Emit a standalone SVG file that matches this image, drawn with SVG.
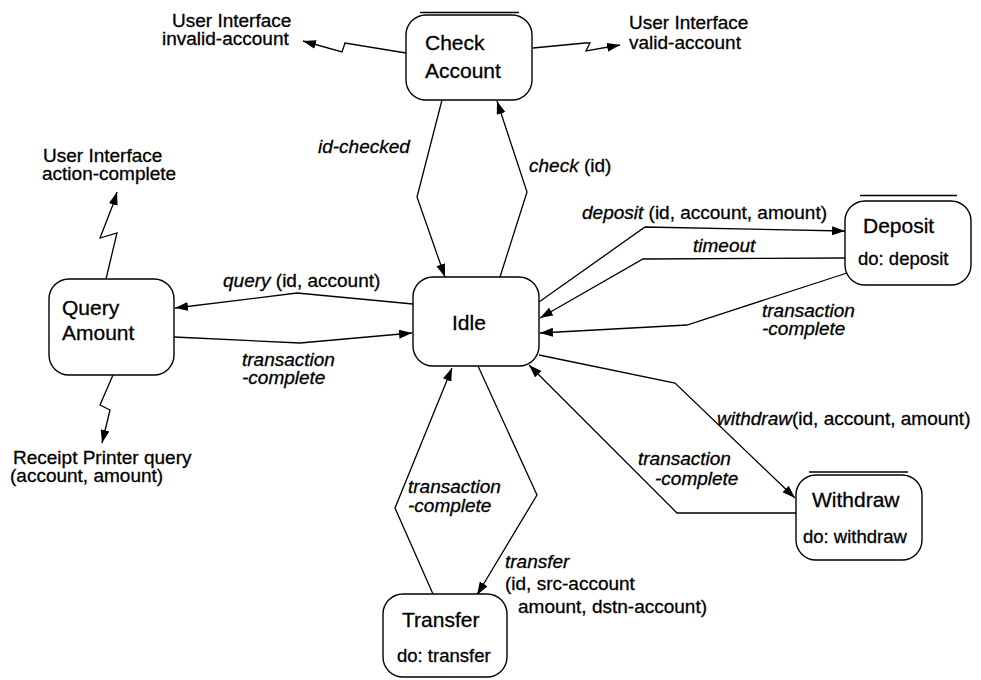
<svg xmlns="http://www.w3.org/2000/svg" width="981" height="680" viewBox="0 0 981 680">
<style>
  .box { fill: #fff; stroke: #000; stroke-width: 1.4; }
  .top { stroke: #000; stroke-width: 1.6; }
  .name { font-family: "Liberation Sans", Arial, sans-serif; font-size: 21px; fill: #000; stroke: #000; stroke-width: 0.3; }
  .act { font-family: "Liberation Sans", Arial, sans-serif; font-size: 18.5px; fill: #000; stroke: #000; stroke-width: 0.3; }
  .lbl { font-family: "Liberation Sans", Arial, sans-serif; font-size: 19px; fill: #000; stroke: #000; stroke-width: 0.3; }
  .it { font-style: italic; }
  .edge { fill: none; stroke: #000; stroke-width: 1.3; marker-end: url(#arr); }
</style>
<defs>
  <marker id="arr" markerUnits="userSpaceOnUse" markerWidth="14" markerHeight="10" refX="13" refY="4.5" orient="auto">
    <path d="M0,0 L13,4.5 L0,9 z" fill="#000"/>
  </marker>
</defs>
<rect width="981" height="680" fill="#fff"/>

<g id="connectors">
  <path class="edge" d="M442,100 L417,197 L445,277"/>
  <path class="edge" d="M500,277 L527,192 L497,101"/>
  <path class="edge" d="M539,302 L645,227 L845,231"/>
  <path class="edge" d="M845,258 L643,259 L540,318"/>
  <path class="edge" d="M847,273 L687,325 L540,333"/>
  <path class="edge" d="M413,304 L297,293 L175,308"/>
  <path class="edge" d="M174,337 L300,343 L412,333"/>
  <path class="edge" d="M539,355 L675,383 L795,498"/>
  <path class="edge" d="M796,513 L677,513 L529,365"/>
  <path class="edge" d="M433,594 L395,508 L452,368"/>
  <path class="edge" d="M478,366 L537,495 L477,595"/>
  <path class="edge" d="M406,53 L345,43 L342,52 L303,41"/>
  <path class="edge" d="M533,48 L585,43 L590,43 L586,51 L620,45"/>
  <path class="edge" d="M106,279 L117,233 L100,238 L114,202 L117,192"/>
  <path class="edge" d="M113,375 L100,405 L110,410 L102,443"/>
</g>

<g id="check-account">
  <rect class="box" x="406" y="15" width="126" height="85" rx="20"/>
  <line class="top" x1="420" y1="12.5" x2="519" y2="12.5"/>
  <text class="name" x="425" y="50">Check<tspan x="425" y="78">Account</tspan></text>
</g>

<g id="idle">
  <rect class="box" x="413" y="277" width="126" height="89" rx="20"/>
  <text class="name" x="452" y="330">Idle</text>
</g>

<g id="query-amount">
  <rect class="box" x="49" y="279" width="125" height="96" rx="20"/>
  <text class="name" x="62" y="315">Query<tspan x="62" y="340">Amount</tspan></text>
</g>

<g id="deposit">
  <rect class="box" x="845" y="201" width="126" height="84" rx="20"/>
  <line class="top" x1="860" y1="195.5" x2="957" y2="195.5"/>
  <text class="name" x="863" y="233">Deposit</text>
  <text class="act" x="858" y="265">do: deposit</text>
</g>

<g id="withdraw">
  <rect class="box" x="796" y="475" width="126" height="85" rx="20"/>
  <line class="top" x1="809" y1="472" x2="908" y2="472"/>
  <text class="name" x="812" y="507">Withdraw</text>
  <text class="act" x="803" y="543">do: withdraw</text>
</g>

<g id="transfer">
  <rect class="box" x="383" y="594" width="124" height="83" rx="20"/>
  <text class="name" x="402" y="627">Transfer</text>
  <text class="act" x="397" y="662">do: transfer</text>
</g>

<g id="labels">
  <text class="lbl" x="172" y="27">User Interface<tspan x="162" y="45">invalid-account</tspan></text>
  <text class="lbl" x="629" y="29">User Interface<tspan x="629" y="49">valid-account</tspan></text>
  <text class="lbl" x="43" y="162">User Interface<tspan x="42" y="180">action-complete</tspan></text>
  <text class="lbl" x="13" y="464">Receipt Printer query<tspan x="10" y="482">(account, amount)</tspan></text>

  <text class="lbl it" x="318" y="153">id-checked</text>
  <text class="lbl" x="529" y="172"><tspan class="it">check</tspan> (id)</text>
  <text class="lbl" x="582" y="219"><tspan class="it">deposit</tspan> (id, account, amount)</text>
  <text class="lbl it" x="693" y="252">timeout</text>
  <text class="lbl it" x="762" y="317">transaction<tspan x="762" y="335">-complete</tspan></text>
  <text class="lbl" x="223" y="287"><tspan class="it">query</tspan> (id, account)</text>
  <text class="lbl it" x="242" y="366">transaction<tspan x="242" y="384">-complete</tspan></text>
  <text class="lbl" x="717" y="425"><tspan class="it">withdraw</tspan>(id, account, amount)</text>
  <text class="lbl it" x="638" y="465">transaction<tspan x="655" y="485">-complete</tspan></text>
  <text class="lbl it" x="408" y="493">transaction<tspan x="408" y="512">-complete</tspan></text>
  <text class="lbl" x="505" y="568"><tspan class="it">transfer</tspan><tspan x="505" y="590">(id, src-account</tspan><tspan x="518" y="613">amount, dstn-account)</tspan></text>
</g>
</svg>
